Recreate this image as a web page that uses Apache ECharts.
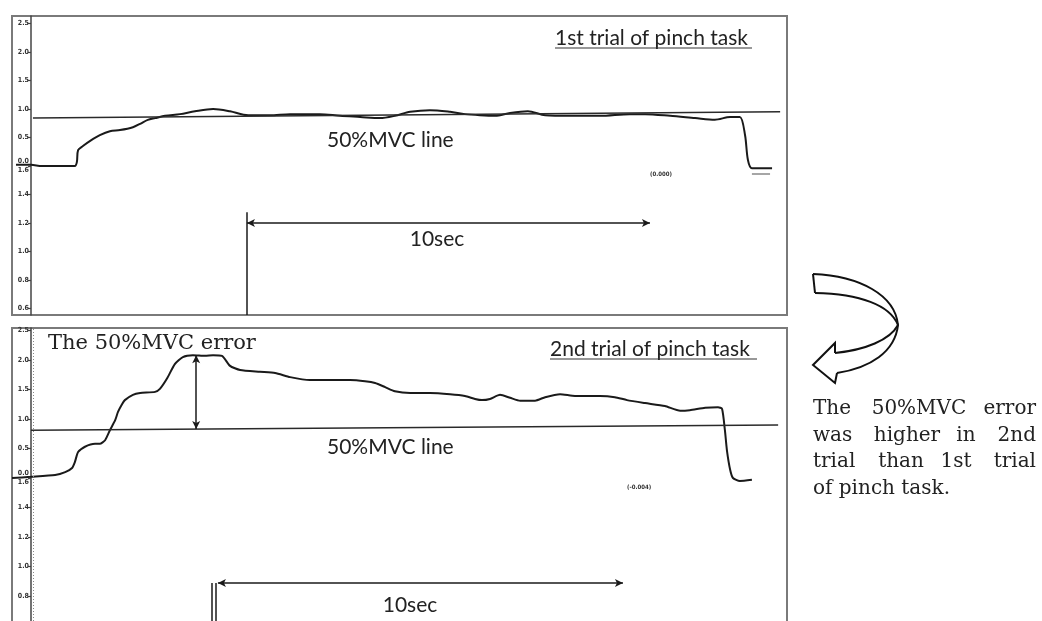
<!DOCTYPE html>
<html>
<head>
<meta charset="utf-8">
<script src="https://cdn.jsdelivr.net/npm/echarts@6/dist/echarts.min.js"></script>
<style>html,body{margin:0;padding:0;background:#fff}#c{width:1042px;height:621px}</style>
</head>
<body>
<div id="c"></div>
<script>
// ---- data (time in seconds, force in channel units) ----
var trial1Time = [0.10,0.47,0.74,1.56,1.61,1.64,1.76,1.94,2.18,2.43,2.68,3.00,3.18,3.37,3.55,3.80,4.17,4.54,4.99,5.41,5.86,6.40,6.90,7.64,8.14,8.64,9.13,9.50,9.88,10.37,10.87,11.24,11.61,11.99,12.36,12.80,13.23,13.85,14.59,15.33,15.71,16.33,16.95,17.44,17.82,18.06,18.19,18.26,18.36,18.86];
var trial1Force = [0.02,0.02,0.00,0.00,0.07,0.28,0.35,0.44,0.54,0.61,0.63,0.68,0.74,0.81,0.84,0.88,0.91,0.96,1.00,0.96,0.89,0.89,0.91,0.91,0.88,0.86,0.84,0.88,0.95,0.98,0.95,0.91,0.89,0.88,0.93,0.96,0.89,0.88,0.88,0.91,0.91,0.88,0.84,0.81,0.86,0.86,0.54,0.11,-0.04,-0.04];
var trial1TailTime = [18.36,18.81];
var trial1TailForce = [-0.14,-0.14];
var mvc1Time = [0.52,19.06];
var mvc1Force = [0.84,0.95];

var trial2Time = [0,0.47,1.07,1.32,1.49,1.56,1.64,1.81,2.06,2.18,2.31,2.43,2.56,2.63,2.73,2.80,3.00,3.18,3.55,3.67,3.85,4.04,4.24,4.49,4.79,4.99,5.21,5.41,5.66,6.15,6.53,6.90,7.39,7.89,8.39,8.76,9.01,9.26,9.50,9.88,10.37,10.87,11.24,11.49,11.66,11.86,12.11,12.36,12.61,12.98,13.23,13.60,13.97,14.59,14.96,15.26,15.71,16.20,16.58,16.82,17.20,17.52,17.62,17.69,17.74,17.82,17.89,18.06,18.36];
var trial2Force = [0,0.02,0.05,0.10,0.17,0.27,0.44,0.53,0.58,0.58,0.64,0.81,0.98,1.12,1.25,1.32,1.41,1.44,1.46,1.51,1.69,1.93,2.05,2.08,2.07,2.08,2.07,1.90,1.83,1.80,1.78,1.71,1.66,1.66,1.66,1.64,1.61,1.54,1.47,1.44,1.44,1.42,1.39,1.34,1.32,1.34,1.41,1.36,1.31,1.31,1.37,1.42,1.39,1.39,1.37,1.32,1.27,1.22,1.14,1.15,1.19,1.20,1.17,0.81,0.47,0.14,0.00,-0.05,-0.03];
var mvc2Time = [0.47,19.01];
var mvc2Force = [0.81,0.90];

// annotations (seconds / channel units)
var span1 = [5.83,15.83], span1Level = -1.0, marker1Time = 5.83, marker1Top = -0.81;
var span2 = [5.11,15.16], span2Level = -1.78, marker2Time = 5.01;
var errorTime = 4.57, errorRange = [2.08,0.83];

// tick labels: upper channel ticks (0..2.5), lower channel labels (1.6..0.6)
var upperTicks = [0,0.5,1.0,1.5,2.0,2.5];
var lowerLabels = ['1.6','1.4','1.2','1.0','0.8','0.6'];
var tickValues1 = [-2.5,-2.0,-1.5,-1.0,-0.5,0,0.5,1.0,1.5,2.0,2.5];
var tickValues2 = [-2.0,-1.5,-1.0,-0.5,0,0.5,1.0,1.5,2.0,2.5];

function zip(a,b){return a.map(function(v,i){return [v,b[i]];});}
function fmt(v){
  if (Math.abs(v) < 1e-6) return upperTicks[0].toFixed(1) + '\n' + lowerLabels[0];
  if (v > 0) return v.toFixed(1);
  var idx = Math.round(-v / 0.5);
  return lowerLabels[idx];
}
var XMAX = 775/40.3;
function yAx(gi, min, max, ticks){
  return {
    type:'value', gridIndex:gi, min:min, max:max, offset:-19,
    axisLine:{show:true, lineStyle:{color:'#444', width:1.5}},
    axisTick:{show:true, length:3, customValues:ticks, lineStyle:{color:'#444', width:1.2}},
    axisLabel:{show:true, customValues:ticks, formatter:fmt, margin:2, fontSize:7, lineHeight:9,
      fontWeight:'bold', color:'#333', fontFamily:'DejaVu Sans Condensed, DejaVu Sans'},
    splitLine:{show:false}
  };
}
var xAx = function(gi){return {type:'value', gridIndex:gi, min:0, max:XMAX, show:false, splitLine:{show:false}};};

var arrowLine = function(p0,p1){
  return [{coord:p0, symbol:'arrow', symbolSize:[6,8]},{coord:p1, symbol:'arrow', symbolSize:[6,8]}];
};
var plainLine = function(p0,p1){
  return [{coord:p0, symbol:'none'},{coord:p1, symbol:'none'}];
};

var serif = 'DejaVu Serif, Liberation Serif, serif';
var sans = 'Lato, Open Sans, sans-serif';

// justified caption: first word left, last word right, middle words centred
var rightWords = [
  [['The',813,'left'],['50%MVC',919,'center'],['error',1036,'right']],
  [['was',813,'left'],['higher',907,'center'],['in',966,'center'],['2nd',1036,'right']],
  [['trial',813,'left'],['than',901,'center'],['1st',956,'center'],['trial',1036,'right']],
  [['of pinch task.',813,'left']]
];
var rightLineY = [409,436,462,489];
var arrowStroke = {stroke:'#111', lineWidth:2, fill:'none'};
function bez(a,b,c,d){
  return {type:'bezierCurve', shape:{x1:a[0],y1:a[1],cpx1:b[0],cpy1:b[1],cpx2:c[0],cpy2:c[1],x2:d[0],y2:d[1]}, style:arrowStroke};
}
var graphics = [
  {type:'rect', shape:{x:12,y:16,width:775,height:299}, style:{fill:'none', stroke:'#7a7a7a', lineWidth:2}},
  {type:'rect', shape:{x:12,y:328,width:775,height:310}, style:{fill:'none', stroke:'#7a7a7a', lineWidth:2}},
  {type:'text', x:555, y:38, style:{text:'1st trial of pinch task', font:'21px '+sans, fill:'#222', textVerticalAlign:'middle'}},
  {type:'line', shape:{x1:555,y1:48,x2:752,y2:48}, style:{stroke:'#333', lineWidth:1.2}},
  {type:'text', x:550, y:349, style:{text:'2nd trial of pinch task', font:'21px '+sans, fill:'#222', textVerticalAlign:'middle'}},
  {type:'line', shape:{x1:550,y1:359,x2:757,y2:359}, style:{stroke:'#333', lineWidth:1.2}},
  {type:'text', x:327, y:140, style:{text:'50%MVC line', font:'21px '+sans, fill:'#222', textVerticalAlign:'middle'}},
  {type:'text', x:327, y:447, style:{text:'50%MVC line', font:'21px '+sans, fill:'#222', textVerticalAlign:'middle'}},
  {type:'text', x:437, y:239, style:{text:'10sec', font:'21px '+sans, fill:'#222', textAlign:'center', textVerticalAlign:'middle'}},
  {type:'text', x:410, y:605, style:{text:'10sec', font:'21px '+sans, fill:'#222', textAlign:'center', textVerticalAlign:'middle'}},
  {type:'text', x:650, y:174, style:{text:'(0.000)', font:'bold 6px DejaVu Sans Condensed, DejaVu Sans', fill:'#333', textVerticalAlign:'middle'}},
  {type:'text', x:627, y:487, style:{text:'(-0.004)', font:'bold 6px DejaVu Sans Condensed, DejaVu Sans', fill:'#333', textVerticalAlign:'middle'}},
  {type:'text', x:48, y:344, style:{text:'The 50%MVC error', font:'21px '+serif, fill:'#222', textVerticalAlign:'middle'}},
  bez([813,274],[860,276],[895,295],[898,325]),
  bez([898,325],[895,352],[870,368],[837,373]),
  {type:'polyline', shape:{points:[[837,373],[835,383],[813,365],[835,343],[835,353]]}, style:arrowStroke},
  bez([835,353],[865,350],[890,340],[898,325]),
  bez([898,325],[890,305],[860,294],[815,293]),
  {type:'line', shape:{x1:815,y1:293,x2:813,y2:274}, style:arrowStroke}
];
rightWords.forEach(function(line, li){
  line.forEach(function(w){
    graphics.push({type:'text', x:w[1], y:rightLineY[li], style:{text:w[0], font:'20px '+serif, fill:'#222', textAlign:w[2], textVerticalAlign:'middle'}});
  });
});

var chart = echarts.init(document.getElementById('c'), null, {renderer:'canvas'});
chart.setOption({
  backgroundColor:'#fff',
  animation:false,
  grid:[
    {left:12, top:16, width:775, height:299},
    {left:12, top:328, width:775, height:293}
  ],
  xAxis:[xAx(0), xAx(1)],
  yAxis:[
    yAx(0, -149/57, 150/57, tickValues1),
    yAx(1, -143/59, 150/59, tickValues2)
  ],
  series:[
    {type:'line', xAxisIndex:0, yAxisIndex:0, data:zip(trial1Time,trial1Force), showSymbol:false, smooth:0.3,
      lineStyle:{color:'#1a1a1a', width:2},
      markLine:{silent:true, animation:false, label:{show:false}, lineStyle:{color:'#1a1a1a', width:1.5, type:'solid'},
        data:[
          arrowLine([span1[0],span1Level],[span1[1],span1Level]),
          plainLine([marker1Time,marker1Top],[marker1Time,-149/57])
        ]}},
    {type:'line', xAxisIndex:0, yAxisIndex:0, data:zip(trial1TailTime,trial1TailForce), showSymbol:false,
      lineStyle:{color:'#888', width:1.5}},
    {type:'line', xAxisIndex:0, yAxisIndex:0, data:zip(mvc1Time,mvc1Force), showSymbol:false,
      lineStyle:{color:'#2a2a2a', width:1.5}},
    {type:'line', xAxisIndex:1, yAxisIndex:1, data:zip(trial2Time,trial2Force), showSymbol:false, smooth:0.2,
      lineStyle:{color:'#1a1a1a', width:2},
      markLine:{silent:true, animation:false, label:{show:false}, lineStyle:{color:'#1a1a1a', width:1.5, type:'solid'},
        data:[
          arrowLine([errorTime,errorRange[0]],[errorTime,errorRange[1]]),
          arrowLine([span2[0],span2Level],[span2[1],span2Level]),
          plainLine([marker2Time-0.05,span2Level],[marker2Time-0.05,-143/59]),
          plainLine([marker2Time+0.05,span2Level],[marker2Time+0.05,-143/59])
        ]}},
    {type:'line', xAxisIndex:1, yAxisIndex:1, data:zip(mvc2Time,mvc2Force), showSymbol:false,
      lineStyle:{color:'#2a2a2a', width:1.5},
      markLine:{silent:true, animation:false, symbol:'none', label:{show:false},
        lineStyle:{color:'#888', width:1, type:[1,2]},
        data:[{xAxis:0.52}]}}
  ],
  graphic:graphics
});
</script>
</body>
</html>
